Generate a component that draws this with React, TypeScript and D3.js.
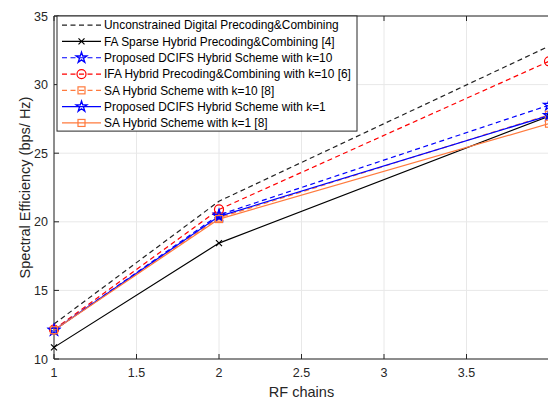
import React from "react";
import * as d3 from "d3";

// RF chains
const rfChains = [1, 2, 4];

const unconstrained = [12.55, 21.5, 32.8];
const faSparse = [10.85, 18.45, 27.7];
const dcifsK10 = [12.1, 20.5, 28.5];
const ifaK10 = [12.15, 20.9, 31.7];
const saK10 = [12.1, 20.3, 27.8];
const dcifsK1 = [12.1, 20.4, 27.75];
const saK1 = [12.1, 20.2, 27.15];

const xTicks = [1, 1.5, 2, 2.5, 3, 3.5];
const yTicks = [10, 15, 20, 25, 30, 35];

const orange = "#ff7a3d";

const series = [
  { name: "Unconstrained Digital Precoding&Combining", values: unconstrained, color: "#222", dash: "5,3.5", marker: "none" },
  { name: "FA Sparse Hybrid Precoding&Combining [4]", values: faSparse, color: "#000", dash: "", marker: "x" },
  { name: "Proposed DCIFS Hybrid Scheme with k=10", values: dcifsK10, color: "#0000ff", dash: "5,3.5", marker: "star" },
  { name: "IFA Hybrid Precoding&Combining with k=10 [6]", values: ifaK10, color: "#ff0000", dash: "5,3.5", marker: "circle" },
  { name: "SA Hybrid Scheme with k=10 [8]", values: saK10, color: orange, dash: "5,3.5", marker: "square" },
  { name: "Proposed DCIFS Hybrid Scheme with k=1", values: dcifsK1, color: "#0000ff", dash: "", marker: "star" },
  { name: "SA Hybrid Scheme with k=1 [8]", values: saK1, color: orange, dash: "", marker: "square" },
];

const W = 548;
const H = 400;
const left = 54;
const right = 549;
const top = 16;
const bottom = 359;

const font = "'Liberation Sans', Arial, Helvetica, sans-serif";
const axisColor = "#262626";

const Marker = ({ type, x, y, color }: { type: string; x: number; y: number; color: string }) => {
  if (type === "x") {
    return (
      <path d={`M${x - 3},${y - 3}L${x + 3},${y + 3}M${x - 3},${y + 3}L${x + 3},${y - 3}`} stroke={color} strokeWidth={1.2} fill="none" />
    );
  }
  if (type === "circle") {
    return <circle cx={x} cy={y} r={4.5} stroke={color} strokeWidth={1.2} fill="none" />;
  }
  if (type === "square") {
    return <rect x={x - 3.5} y={y - 3.5} width={7} height={7} stroke={color} strokeWidth={1.2} fill="none" />;
  }
  if (type === "star") {
    const star = d3.symbol().type(d3.symbolStar).size(36)();
    return <path d={star || ""} transform={`translate(${x},${y})`} stroke={color} strokeWidth={1.3} fill="none" />;
  }
  return null;
};

export default function App() {
  const x = d3.scaleLinear().domain([1, 4]).range([left, right]);
  const y = d3.scaleLinear().domain([10, 35]).range([bottom, top]);

  const line = d3
    .line<number>()
    .x((_, i) => x(rfChains[i]))
    .y((d) => y(d));

  const legendX = 57;
  const legendY = 16;
  const legendW = 300;
  const rowH = 16.3;
  const legendH = rowH * series.length + 1;

  return (
    <svg width={W} height={H} style={{ position: "absolute", left: 0, top: 0, background: "#fff" }}>
      <defs>
        <clipPath id="plot">
          <rect x={left} y={top} width={right - left} height={bottom - top} />
        </clipPath>
      </defs>

      {/* grid */}
      <g stroke="#e8e8e8" strokeWidth={1}>
        {xTicks.map((t) => (
          <line key={"gx" + t} x1={x(t)} x2={x(t)} y1={top} y2={bottom} />
        ))}
        {yTicks.map((t) => (
          <line key={"gy" + t} x1={left} x2={right} y1={y(t)} y2={y(t)} />
        ))}
      </g>

      {/* axes box */}
      <g stroke={axisColor} strokeWidth={1} fill="none">
        <line x1={left} x2={right} y1={bottom} y2={bottom} />
        <line x1={left} x2={left} y1={top} y2={bottom} />
        <line x1={left} x2={right} y1={top} y2={top} />
        {xTicks.map((t) => (
          <g key={"tx" + t}>
            <line x1={x(t)} x2={x(t)} y1={bottom} y2={bottom - 5} />
            <line x1={x(t)} x2={x(t)} y1={top} y2={top + 5} />
          </g>
        ))}
        {yTicks.map((t) => (
          <line key={"ty" + t} x1={left} x2={left + 5} y1={y(t)} y2={y(t)} />
        ))}
      </g>

      {/* tick labels */}
      <g fontFamily={font} fontSize={12.5} fill={axisColor}>
        {xTicks.map((t) => (
          <text key={"lx" + t} x={x(t)} y={bottom + 18} textAnchor="middle">
            {t}
          </text>
        ))}
        {yTicks.map((t) => (
          <text key={"ly" + t} x={left - 6} y={y(t) + 4.5} textAnchor="end">
            {t}
          </text>
        ))}
      </g>

      <text x={(left + right) / 2} y={397} textAnchor="middle" fontFamily={font} fontSize={14.5} fill={axisColor}>
        RF chains
      </text>
      <text
        transform={`translate(30,${(top + bottom) / 2}) rotate(-90)`}
        textAnchor="middle"
        fontFamily={font}
        fontSize={14.5}
        fill={axisColor}
      >
        Spectral Efficiency (bps/ Hz)
      </text>

      {/* series */}
      <g clipPath="url(#plot)">
        {series.map((s) => (
          <path key={s.name} d={line(s.values) || ""} fill="none" stroke={s.color} strokeWidth={1.2} strokeDasharray={s.dash} />
        ))}
      </g>
      <g>
        {series.map((s) =>
          s.values.map((v, i) => <Marker key={s.name + i} type={s.marker} x={x(rfChains[i])} y={y(v)} color={s.color} />)
        )}
      </g>

      {/* legend */}
      <g>
        <rect x={legendX} y={legendY} width={legendW} height={legendH} fill="#fff" stroke={axisColor} strokeWidth={1} />
        {series.map((s, i) => {
          const cy = legendY + rowH * i + rowH / 2 + 1;
          return (
            <g key={"lg" + s.name}>
              <line x1={legendX + 5} x2={legendX + 44} y1={cy} y2={cy} stroke={s.color} strokeWidth={1.2} strokeDasharray={s.dash} />
              <Marker type={s.marker} x={legendX + 24.5} y={cy} color={s.color} />
              <text x={legendX + 47} y={cy + 4.2} fontFamily={font} fontSize={11.9} fill="#000">
                {s.name}
              </text>
            </g>
          );
        })}
      </g>
    </svg>
  );
}
